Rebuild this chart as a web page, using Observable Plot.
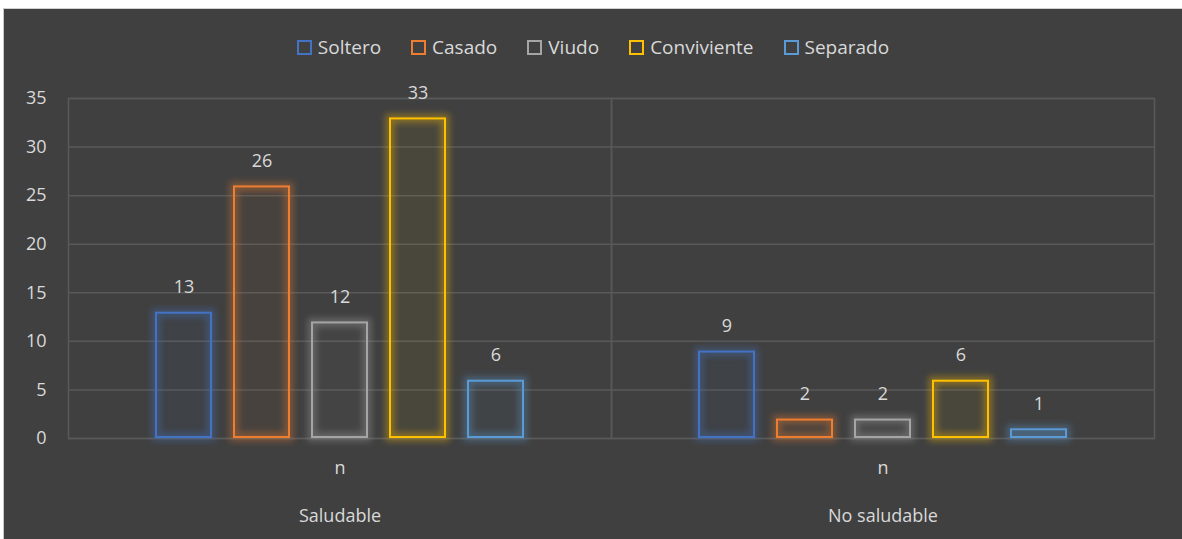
<!DOCTYPE html>
<html>
<head>
<meta charset="utf-8">
<script src="https://cdn.jsdelivr.net/npm/d3@7"></script>
<script src="https://cdn.jsdelivr.net/npm/@observablehq/plot@0.6"></script>
<style>
  html, body { margin: 0; padding: 0; background: #ffffff; }
  #wrap {
    position: absolute; left: 3px; top: 8px; width: 1179px; height: 531px;
    background: #404040; border-left: 1px solid #c8c8c8; border-top: 1px solid #d0d0d0;
    box-sizing: border-box; overflow: hidden;
    font-family: "Open Sans", sans-serif; color: #d9d9d9;
  }
  #legend {
    height: 64px; display: flex; justify-content: center; align-items: center;
    gap: 30px; font-size: 19px; padding-top: 12px; box-sizing: border-box;
  }
  #legend .item { display: flex; align-items: center; gap: 6px; }
  #legend .sw { width: 11px; height: 11px; border: 2px solid; }
  svg .glow { filter: blur(3px); }
</style>
</head>
<body>
<div id="wrap">
  <div id="legend"></div>
  <div id="chart"></div>
</div>
<script>
const groups = ["Saludable", "No saludable"];
const series = ["Soltero", "Casado", "Viudo", "Conviviente", "Separado"];
const colors = ["#4472C4", "#ED7D31", "#A5A5A5", "#FFC000", "#5B9BD5"];
const saludable = [13, 26, 12, 33, 6];
const noSaludable = [9, 2, 2, 6, 1];
const subLabel = "n";
const yTicks = [0, 5, 10, 15, 20, 25, 30, 35];

const data = [];
series.forEach((s, i) => data.push({group: groups[0], series: s, value: saludable[i]}));
series.forEach((s, i) => data.push({group: groups[1], series: s, value: noSaludable[i]}));

// legend
const legend = document.getElementById("legend");
series.forEach((s, i) => {
  const it = document.createElement("div");
  it.className = "item";
  it.innerHTML = `<span class="sw" style="border-color:${colors[i]}"></span><span>${s}</span>`;
  legend.appendChild(it);
});

const grid = "#595959";
const chart = Plot.plot({
  width: 1178,
  height: 466,
  marginTop: 25,
  marginBottom: 101,
  marginLeft: 64,
  marginRight: 28,
  style: {background: "transparent", color: "#d9d9d9", fontFamily: "Open Sans, sans-serif", fontSize: "18px"},
  fx: {domain: groups, padding: 0, axis: null},
  x: {domain: series, paddingInner: 0.27, paddingOuter: 1.115, axis: null},
  y: {domain: [0, 35], axis: null},
  color: {domain: series, range: colors},
  marks: [
    Plot.gridY(yTicks, {stroke: grid, strokeOpacity: 1, strokeWidth: 1.5}),
    Plot.frame({stroke: grid, strokeWidth: 1.5}),
    Plot.axisY(yTicks, {tickSize: 0, tickPadding: 22, fill: "#d9d9d9", fontSize: 18, label: null}),
    Plot.axisFx({anchor: "bottom", tickSize: 0, tickPadding: 23, tickFormat: () => subLabel, label: null, fontSize: 18}),
    Plot.axisFx({anchor: "bottom", tickSize: 0, tickPadding: 71, label: null, fontSize: 18}),
    Plot.barY(data, {fx: "group", x: "series", y: "value", fill: "none", stroke: "series", strokeWidth: 9, strokeOpacity: 0.35, className: "glow", inset: 1}),
    Plot.barY(data, {fx: "group", x: "series", y: "value", fill: "series", fillOpacity: 0.05, stroke: "series", strokeWidth: 2, inset: 1}),
    Plot.text(data, {fx: "group", x: "series", y: "value", text: d => String(d.value), dy: -25, fill: "#d9d9d9", fontSize: 18, lineAnchor: "middle"})
  ]
});
document.getElementById("chart").appendChild(chart);
</script>
</body>
</html>
